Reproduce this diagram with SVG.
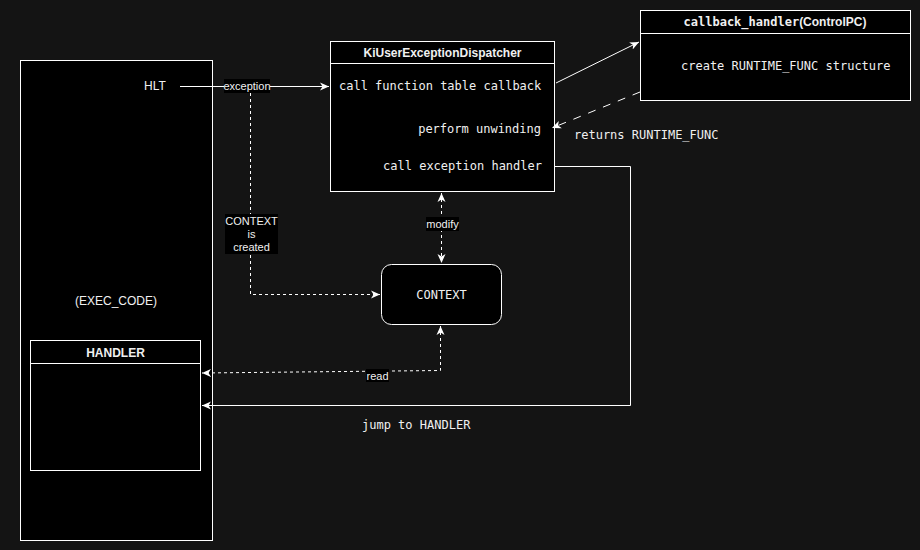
<svg xmlns="http://www.w3.org/2000/svg" width="920" height="550" viewBox="0 0 920 550">
<defs>
<style>
.box{fill:#000;stroke:#fff;stroke-width:1}
.sans{font-family:"Liberation Sans",Arial,sans-serif;font-size:12px;fill:#f0f0f0}
.bold{font-weight:bold}
.mono{font-family:"DejaVu Sans Mono","Liberation Mono",monospace;font-size:12px;fill:#f0f0f0}
.lbl{font-family:"Liberation Sans",Arial,sans-serif;font-size:11px;fill:#f0f0f0}
.edge{fill:none;stroke:#fff;stroke-width:1}
.dash{stroke-dasharray:3,3}
.ldash{stroke-dasharray:8,8}
.lblbg{fill:#000}
</style>
<marker id="ah" markerWidth="10" markerHeight="10" refX="9" refY="5" orient="auto-start-reverse" markerUnits="userSpaceOnUse" viewBox="0 0 10 10">
<path d="M0,1 L9,5 L0,9 L2.5,5 z" fill="#fff"/>
</marker>
</defs>
<rect width="920" height="550" fill="#141414"/>

<g id="exec_code">
<rect class="box" x="20.5" y="60.5" width="192" height="480"/>
<text class="sans" x="155" y="90" text-anchor="middle">HLT</text>
<text class="sans" x="116" y="305" text-anchor="middle">(EXEC_CODE)</text>
</g>

<g id="handler">
<rect class="box" x="30.5" y="340.5" width="170" height="130"/>
<line x1="30.5" y1="363.5" x2="200.5" y2="363.5" stroke="#fff"/>
<text class="sans bold" x="115.5" y="357" text-anchor="middle">HANDLER</text>
</g>

<g id="dispatcher">
<rect class="box" x="330.5" y="41.5" width="224" height="150"/>
<line x1="330.5" y1="63.5" x2="554.5" y2="63.5" stroke="#fff"/>
<text class="sans bold" x="442.5" y="57" text-anchor="middle">KiUserExceptionDispatcher</text>
<text class="mono" x="339" y="90">call function table callback</text>
<text class="mono" x="541" y="133" text-anchor="end">perform unwinding</text>
<text class="mono" x="542" y="170" text-anchor="end">call exception handler</text>
</g>

<g id="callback_handler">
<rect class="box" x="640.5" y="10.5" width="270" height="90"/>
<line x1="640.5" y1="33.5" x2="910.5" y2="33.5" stroke="#fff"/>
<text class="sans bold" x="775" y="26" text-anchor="middle"><tspan font-family="'DejaVu Sans Mono','Liberation Mono',monospace">callback_handler</tspan>(ControlPC)</text>
<text class="mono" x="681" y="70">create RUNTIME_FUNC structure</text>
</g>

<g id="context">
<rect class="box" x="381.5" y="264.5" width="120" height="60" rx="10" ry="10"/>
<text class="mono" x="441.5" y="298.5" text-anchor="middle">CONTEXT</text>
</g>

<g id="connectors">
<line class="edge" x1="180" y1="86.5" x2="329" y2="86.5" marker-end="url(#ah)"/>
<polyline class="edge dash" points="250.5,93 250.5,294.5 380,294.5" marker-end="url(#ah)"/>
<line class="edge" x1="556" y1="83" x2="639" y2="42" marker-end="url(#ah)"/>
<line class="edge ldash" x1="640" y1="92" x2="552" y2="128" marker-end="url(#ah)"/>
<polyline class="edge" points="555,166.5 630.5,166.5 630.5,405.5 202,405.5" marker-end="url(#ah)"/>
<line class="edge dash" x1="441.5" y1="193" x2="441.5" y2="263" marker-start="url(#ah)" marker-end="url(#ah)"/>
<polyline class="edge dash" points="440.5,326 440.5,370.5 202,373" stroke="#ddd" marker-start="url(#ah)" marker-end="url(#ah)"/>

<rect class="lblbg" x="224" y="79" width="46" height="14"/>
<text class="lbl" x="247" y="90" text-anchor="middle">exception</text>
<rect class="lblbg" x="225" y="214" width="53" height="40"/>
<text class="lbl" x="251.5" y="225" text-anchor="middle">CONTEXT</text>
<text class="lbl" x="251.5" y="238" text-anchor="middle">is</text>
<text class="lbl" x="251.5" y="251" text-anchor="middle">created</text>
<rect class="lblbg" x="426" y="217" width="33" height="14"/>
<text class="lbl" x="442.5" y="228" text-anchor="middle">modify</text>
<rect class="lblbg" x="366" y="369" width="23" height="13"/>
<text class="lbl" x="377.5" y="380" text-anchor="middle">read</text>
<text class="mono" x="574" y="139">returns RUNTIME_FUNC</text>
<text class="mono" x="362" y="429">jump to HANDLER</text>
</g>
</svg>
